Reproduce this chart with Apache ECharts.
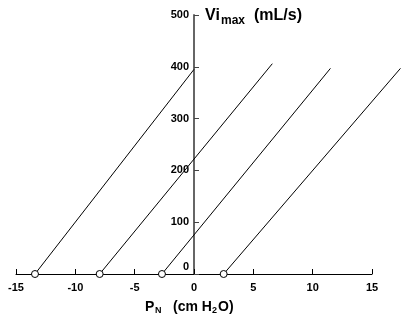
<!DOCTYPE html>
<html>
<head>
<meta charset="utf-8">
<script src="https://cdn.jsdelivr.net/npm/echarts@6/dist/echarts.min.js"></script>
<style>
  html, body { margin: 0; padding: 0; background: #fff; }
  #chart { width: 401px; height: 320px; }
</style>
</head>
<body>
<div id="chart"></div>
<script>
// x-axis intercepts (open circles) and where each line ends
const startX = [-13.4, -7.95, -2.7, 2.5];
const endX = [0, 6.6, 11.5, 17.4];
const endY = [395, 406, 397, 397];
const xTicks = [-15, 15, 5];   // min, max, step
const yTicks = [0, 500, 100];

const FONT = "'Liberation Sans', Arial, sans-serif";

// plot area of the drawn axes
const gLeft = 16, gRight = 29, gTop = 15, gBottom = 46, W = 401;
// the lines run past the end of the x axis, so they get a wider hidden grid
const pxPerUnit = (W - gLeft - gRight) / (xTicks[1] - xTicks[0]);
const wideMax = xTicks[0] + (W - gLeft) / pxPerUnit;

const myChart = echarts.init(document.getElementById('chart'));

const series = startX.map((x0, i) => ({
    type: 'line',
    xAxisIndex: 1,
    yAxisIndex: 1,
    symbol: 'circle',
    symbolSize: 7,
    showSymbol: true,
    lineStyle: { color: '#000', width: 1 },
    itemStyle: { color: '#fff', borderColor: '#000', borderWidth: 1 },
    z: 5,
    data: [
        { value: [x0, 0] },
        { value: [endX[i], endY[i]], symbol: 'none' }
    ]
}));

const txt = (text, x, y, size) => ({
    type: 'text', x: x, y: y, z: 10,
    style: { text: text, font: 'bold ' + size + 'px ' + FONT, fill: '#000', verticalAlign: 'middle' }
});

const option = {
    animation: false,
    backgroundColor: '#fff',
    grid: [
        { left: gLeft, right: gRight, top: gTop, bottom: gBottom, outerBoundsMode: 'none', containLabel: false },
        { left: gLeft, right: 0, top: gTop, bottom: gBottom, outerBoundsMode: 'none', containLabel: false }
    ],
    xAxis: [{
        type: 'value',
        gridIndex: 0,
        min: xTicks[0], max: xTicks[1], interval: xTicks[2],
        axisLine: { onZero: false, lineStyle: { color: '#000', width: 1 } },
        axisTick: { inside: true, length: 5, lineStyle: { color: '#000' } },
        axisLabel: { color: '#000', fontWeight: 'bold', fontSize: 11, fontFamily: FONT, margin: 8 },
        splitLine: { show: false }
    }, {
        type: 'value',
        gridIndex: 1,
        min: xTicks[0], max: wideMax,
        show: false
    }],
    yAxis: [{
        type: 'value',
        gridIndex: 0,
        min: yTicks[0], max: yTicks[1], interval: yTicks[2],
        offset: -(0 - xTicks[0]) * pxPerUnit,
        axisLine: { show: true, onZero: false, lineStyle: { color: '#666', width: 2 } },
        axisTick: { show: true, inside: true, length: 5, lineStyle: { color: '#444' } },
        axisLabel: {
            color: '#000', fontWeight: 'bold', fontSize: 11, fontFamily: FONT, margin: 5,
            formatter: v => v === 0 ? '{z|0}' : String(v),
            rich: { z: { fontWeight: 'bold', fontSize: 11, fontFamily: FONT, color: '#000', padding: [0, 0, 14, 0] } }
        },
        splitLine: { show: false }
    }, {
        type: 'value',
        gridIndex: 1,
        min: yTicks[0], max: yTicks[1],
        show: false
    }],
    graphic: [
        txt('Vi', 205, 16, 16),
        txt('max', 221, 21, 12),
        txt('(mL/s)', 254, 16, 16),
        txt('P', 145, 307, 14),
        txt('N', 155, 311, 9),
        txt('(cm H', 173, 307, 14),
        txt('2', 212, 311, 9),
        txt('O)', 218, 307, 14)
    ],
    series: series
};

myChart.setOption(option);
</script>
</body>
</html>
